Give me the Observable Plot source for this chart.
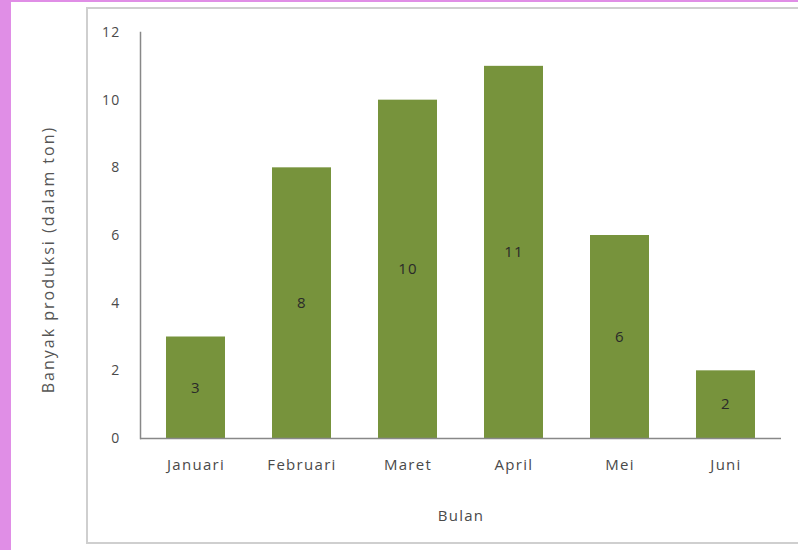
<!DOCTYPE html>
<html><head><meta charset="utf-8">
<script src="https://cdn.jsdelivr.net/npm/d3@7"></script>
<script src="https://cdn.jsdelivr.net/npm/@observablehq/plot@0.6"></script>
<style>
html,body{margin:0;padding:0;width:798px;height:550px;overflow:hidden;background:#e08ee6;}
#white{position:absolute;left:11px;top:2px;right:0;bottom:0;background:#fff;}
#box{position:absolute;left:86px;top:7px;width:760px;height:537px;border:2px solid #cfcfcf;box-sizing:border-box;}
#chart{position:absolute;left:0;top:0;}
</style></head>
<body>
<div id="white"></div><div id="box"></div>
<div id="chart"></div>
<script>
const months = ["Januari","Februari","Maret","April","Mei","Juni"];
const production = [3, 8, 10, 11, 6, 2];
const yTicks = [0, 2, 4, 6, 8, 10, 12];
const yTitle = "Banyak produksi (dalam ton)";
const xTitle = "Bulan";
const data = months.map((m, i) => ({bulan: m, ton: production[i]}));
const font = "'Open Sans', sans-serif";
const plot = Plot.plot({
  width: 798, height: 550,
  marginLeft: 140, marginRight: 17, marginTop: 32, marginBottom: 112,
  style: {fontFamily: font, fontSize: "15px", color: "#555", background: "transparent", letterSpacing: "1.3px"},
  x: {domain: months, paddingInner: 0.44, paddingOuter: 0.22, label: null},
  y: {domain: [0, 12], label: null},
  marks: [
    Plot.barY(data, {x: "bulan", y: "ton", fill: "#77933c"}),
    Plot.axisY({ticks: yTicks, tickSize: 0, tickPadding: 20, label: null, fontSize: 14, fill: "#4a4a4a"}),
    Plot.text([yTitle], {frameAnchor: "left", textAnchor: "middle", dx: -92, dy: 24, rotate: -90, fontSize: 16, fill: "#555", text: d => d}),
    Plot.axisX({tickSize: 0, tickPadding: 21, label: xTitle, labelAnchor: "center", labelArrow: "none", labelOffset: 82, fontSize: 15, fill: "#4a4a4a"}),
    Plot.ruleY([0], {stroke: "#888", strokeWidth: 1.5}),
    Plot.frame({anchor: "left", stroke: "#888", strokeWidth: 1.5}),
    Plot.text(data, {x: "bulan", y: d => d.ton / 2, text: d => String(d.ton), fill: "#2a2a2a", fontSize: 15})
  ]
});
d3.select(plot).selectAll("text").filter(function() { return this.textContent === yTitle; }).style("letter-spacing", "2px");
document.getElementById("chart").appendChild(plot);
</script>
</body></html>
